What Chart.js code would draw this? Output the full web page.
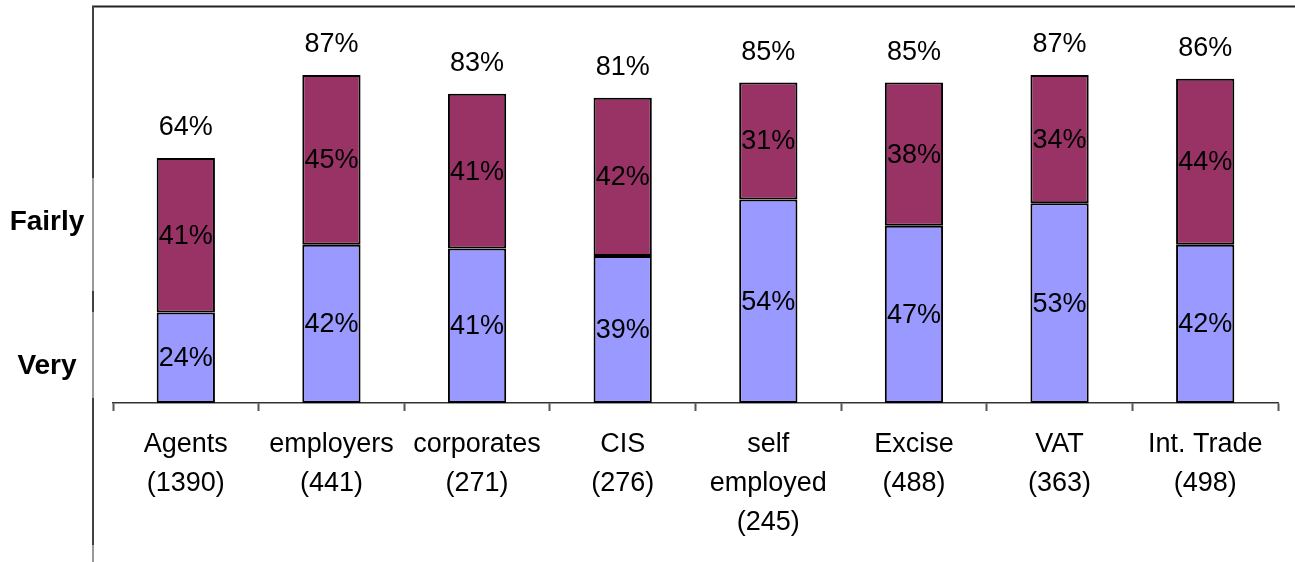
<!DOCTYPE html>
<html>
<head>
<meta charset="utf-8">
<script src="https://cdn.jsdelivr.net/npm/chart.js@4"></script>
<style>
    html, body { margin: 0; padding: 0; background: #fff; }
    #wrap { width: 1295px; height: 562px; position: relative; }
</style>
</head>
<body>
<div id="wrap"><canvas id="satChart"></canvas></div>
<script>
// Survey groups and their sample sizes
const groups = ['Agents', 'employers', 'corporates', 'CIS', ['self', 'employed'], 'Excise', 'VAT', 'Int. Trade'];
const sampleSizes = [1390, 441, 271, 276, 245, 488, 363, 498];

// Share of respondents (%)
const veryValues = [24, 42, 41, 39, 54, 47, 53, 42];
const fairlyValues = [41, 45, 41, 42, 31, 38, 34, 44];
const totalLabels = [64, 87, 83, 81, 85, 85, 87, 86];

const rowLabels = ['Fairly', 'Very'];

const FONT = '"Liberation Sans", Arial, sans-serif';

const labels = groups.map((g, i) => {
    const lines = Array.isArray(g) ? g.slice() : [g];
    lines.push('(' + sampleSizes[i] + ')');
    return lines;
});

// Frame lines and row captions on the left
const framePlugin = {
    id: 'frame',
    beforeDraw(chart) {
        const ctx = chart.ctx;
        ctx.save();
        ctx.lineWidth = 2;
        ctx.strokeStyle = '#222';
        ctx.beginPath();
        ctx.moveTo(92, 6.5);
        ctx.lineTo(1295, 6.5);
        ctx.stroke();

        const segs = [
            [6, 178, '#404040'], [178, 291, '#999'], [291, 312, '#404040'],
            [312, 398, '#999'], [398, 545, '#404040'], [545, 562, '#999']
        ];
        segs.forEach(s => {
            ctx.strokeStyle = s[2];
            ctx.beginPath();
            ctx.moveTo(93, s[0]);
            ctx.lineTo(93, s[1]);
            ctx.stroke();
        });

        ctx.fillStyle = '#000';
        ctx.font = 'bold 28px ' + FONT;
        ctx.textAlign = 'center';
        ctx.textBaseline = 'middle';
        ctx.fillText(rowLabels[0], 47, 222);
        ctx.fillText(rowLabels[1], 47, 366);
        ctx.restore();
    }
};

// Value labels inside segments and totals above the bars
const valueLabelPlugin = {
    id: 'valueLabels',
    afterDatasetsDraw(chart) {
        const ctx = chart.ctx;
        ctx.save();
        ctx.fillStyle = '#000';
        ctx.font = '27px ' + FONT;
        ctx.textAlign = 'center';
        ctx.textBaseline = 'middle';
        chart.data.datasets.forEach((ds, di) => {
            const meta = chart.getDatasetMeta(di);
            meta.data.forEach((bar, i) => {
                const mid = (bar.y + bar.base) / 2;
                ctx.fillText(ds.data[i] + '%', bar.x, mid + 1);
            });
        });
        const topMeta = chart.getDatasetMeta(chart.data.datasets.length - 1);
        topMeta.data.forEach((bar, i) => {
            ctx.fillText(totalLabels[i] + '%', bar.x, bar.y - 30);
        });
        ctx.restore();
    }
};

new Chart(document.getElementById('satChart').getContext('2d'), {
    type: 'bar',
    data: {
        labels: labels,
        datasets: [
            {
                label: 'Very',
                data: veryValues,
                backgroundColor: '#9999FF',
                borderColor: '#000',
                borderWidth: 2,
                borderSkipped: false,
                barPercentage: 0.4,
                categoryPercentage: 1
            },
            {
                label: 'Fairly',
                data: fairlyValues,
                backgroundColor: '#993366',
                borderColor: '#000',
                borderWidth: 2,
                borderSkipped: false,
                barPercentage: 0.4,
                categoryPercentage: 1
            }
        ]
    },
    options: {
        responsive: true,
        maintainAspectRatio: false,
        animation: false,
        layout: {
            padding: { left: 113, right: 17, top: 26, bottom: 0 }
        },
        scales: {
            x: {
                stacked: true,
                afterFit(axis) { axis.height = 159; },
                grid: {
                    display: true,
                    offset: true,
                    drawOnChartArea: false,
                    drawTicks: true,
                    tickLength: 8,
                    tickWidth: 2,
                    tickColor: '#555'
                },
                border: { display: true, color: '#333', width: 1.5 },
                ticks: {
                    color: '#000',
                    padding: 14,
                    maxRotation: 0,
                    autoSkip: false,
                    font: { family: FONT, size: 27, lineHeight: 1.44 }
                }
            },
            y: {
                stacked: true,
                display: false,
                min: 0,
                max: 100
            }
        },
        plugins: {
            legend: { display: false },
            tooltip: { enabled: false }
        }
    },
    plugins: [framePlugin, valueLabelPlugin]
});
</script>
</body>
</html>
